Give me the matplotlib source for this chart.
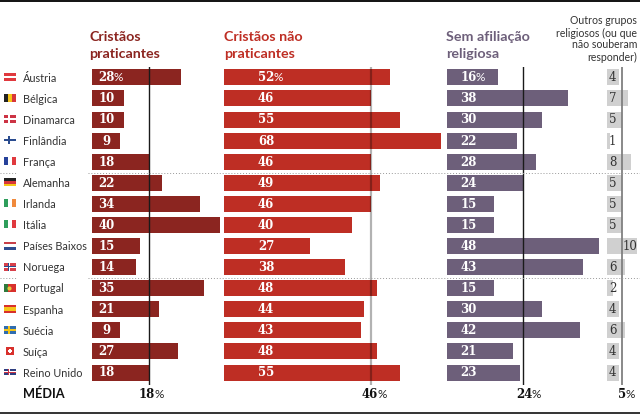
import matplotlib
matplotlib.use('Agg')
import matplotlib.pyplot as plt
from matplotlib.patches import Rectangle

countries = ['Áustria', 'Bélgica', 'Dinamarca', 'Finlândia', 'França', 'Alemanha', 'Irlanda', 'Itália',
             'Países Baixos', 'Noruega', 'Portugal', 'Espanha', 'Suécia', 'Suíça', 'Reino Unido']
praticantes = [28, 10, 10, 9, 18, 22, 34, 40, 15, 14, 35, 21, 9, 27, 18]
nao_praticantes = [52, 46, 55, 68, 46, 49, 46, 40, 27, 38, 48, 44, 43, 48, 55]
sem_afiliacao = [16, 38, 30, 22, 28, 24, 15, 15, 48, 43, 15, 30, 42, 21, 23]
outros = [4, 7, 5, 1, 8, 5, 5, 5, 10, 6, 2, 4, 6, 4, 4]
medias = [18, 46, 24, 5]

W, H = 640, 418
SANS = 'Lato'
SLAB = 'DejaVu Serif'
row_top = 77.4
row_step = 21.08

fig = plt.figure(figsize=(W / 100, H / 100), dpi=100)
over = fig.add_axes([0, 0, 1, 1], zorder=5)
over.set_xlim(0, W)
over.set_ylim(H, 0)
over.axis('off')


def column(x0, scale, values, mean, color, line, label_at, txt='white', lw=1.0):
    ax = fig.add_axes([x0 / W, 1 - 385 / H, (W - x0) / W, (385 - 67) / H])
    ax.set_xlim(0, (W - x0) / scale)
    ax.set_ylim((385 - row_top) / row_step, (67 - row_top) / row_step)
    ax.axis('off')
    ax.barh(range(len(values)), values, height=0.76, color=color, linewidth=0)
    ax.axvline(mean, color=line, linewidth=lw, zorder=4)
    for i, v in enumerate(values):
        if txt == 'white':
            ax.text(label_at / scale, i + 0.02, str(v), color=txt, fontsize=8.5, fontweight='bold',
                    family=SLAB, ha='center', va='center', zorder=5)
        else:
            # the 10 does not fit inside its slot, it sits right of the mean line
            pos = 23.5 if v == 10 else label_at
            ax.text(pos / scale, i + 0.02, str(v), color=txt, fontsize=8.5, family=SLAB,
                    ha='center', va='center', zorder=5)
        if i == 0 and txt == 'white':
            ax.text((label_at + 7.2) / scale, i + 0.02, '%', color=txt, fontsize=8.5, family=SANS,
                    ha='left', va='center', zorder=5)


column(91.5, 3.2, praticantes, medias[0], '#8B2520', '#1a1a1a', 15)
column(223.5, 3.2, nao_praticantes, medias[1], '#BE2E24', (0, 0, 0, 0.3), 42.5, lw=1.6)
column(446.7, 3.18, sem_afiliacao, medias[2], '#6D5F7A', '#1a1a1a', 21.6)
column(606.7, 3.05, outros, medias[3], '#D0D0D0', '#808080', 6, txt='#333333', lw=1.3)

# media row
for m, lx in zip(medias, [147, 370, 524, 622]):
    over.text(lx, 394, str(m), fontsize=8.5, fontweight='bold', family=SLAB, ha='center', va='center', color='#111111')
    over.text(lx + 7.2 if m > 9 else lx + 3.8, 394, '%', fontsize=8.5, family=SANS, ha='left', va='center', color='#222222')
over.text(23, 394, 'MÉDIA', fontsize=9.2, fontweight='bold', family=SANS, ha='left', va='center', color='#111111')

# headings
for x, c, lines in [(89, '#8B2520', ['Cristãos', 'praticantes']),
                    (224, '#BE2E24', ['Cristãos não', 'praticantes']),
                    (446, '#6D5F7A', ['Sem afiliação', 'religiosa'])]:
    over.text(x, 37, lines[0], fontsize=10.3, fontweight='bold', family=SANS, color=c, va='center')
    over.text(x, 53.5, lines[1], fontsize=10.3, fontweight='bold', family=SANS, color=c, va='center')
for y, s in zip([21, 33, 45, 57], ['Outros grupos', 'religiosos (ou que', 'não souberam', 'responder)']):
    over.text(637, y, s, fontsize=7.6, family=SANS, color='#333333', ha='right', va='center')

# rules
over.plot([0, W], [1, 1], color='#111111', lw=1.4, clip_on=False)
over.plot([0, W], [413, 413], color='#111111', lw=1.2)
for y in [172.5, 277.5]:
    over.plot([0, 17], [y, y], color='#999999', lw=0.7, ls=(0, (1, 2)))
    over.plot([88, W], [y, y], color='#999999', lw=0.7, ls=(0, (1, 2)))


def stripes_h(x, y, cols, w=12, h=8):
    for k, c in enumerate(cols):
        over.add_patch(Rectangle((x, y + k * h / len(cols)), w, h / len(cols), color=c, lw=0))


def stripes_v(x, y, cols, w=12, h=8):
    for k, c in enumerate(cols):
        over.add_patch(Rectangle((x + k * w / len(cols), y), w / len(cols), h, color=c, lw=0))


def cross(x, y, bg, fg, inner=None, w=12, h=8):
    over.add_patch(Rectangle((x, y), w, h, color=bg, lw=0))
    over.add_patch(Rectangle((x + 3.5, y), 2, h, color=fg, lw=0))
    over.add_patch(Rectangle((x, y + h / 2 - 1), w, 2, color=fg, lw=0))
    if inner:
        over.add_patch(Rectangle((x + 4, y), 1, h, color=inner, lw=0))
        over.add_patch(Rectangle((x, y + h / 2 - 0.5), w, 1, color=inner, lw=0))


fx = 4
for i, name in enumerate(countries):
    cy = row_top + i * row_step
    over.text(23, cy + 0.8, name, fontsize=7.8, family=SANS, color='#333333', ha='left', va='center')
    y = cy - 4.5
    if name == 'Áustria':
        stripes_h(fx, y, ['#E0393E', '#FFFFFF', '#E0393E'])
    elif name == 'Bélgica':
        stripes_v(fx, y, ['#222222', '#F5C518', '#D8363A'])
    elif name == 'Dinamarca':
        cross(fx, y, '#CC3344', '#FFFFFF')
    elif name == 'Finlândia':
        cross(fx, y, '#FFFFFF', '#2A4C8F')
    elif name == 'França':
        stripes_v(fx, y, ['#26419A', '#FFFFFF', '#E0393E'])
    elif name == 'Alemanha':
        stripes_h(fx, y, ['#222222', '#D8363A', '#F5C518'])
    elif name == 'Irlanda':
        stripes_v(fx, y, ['#2E9E5B', '#FFFFFF', '#F08A3C'])
    elif name == 'Itália':
        stripes_v(fx, y, ['#2E9E5B', '#FFFFFF', '#E0393E'])
    elif name == 'Países Baixos':
        stripes_h(fx, y, ['#C8404A', '#FFFFFF', '#2F4C8F'])
    elif name == 'Noruega':
        cross(fx, y, '#D8404A', '#FFFFFF', inner='#2A4C8F')
    elif name == 'Portugal':
        stripes_v(fx, y, ['#2F7A3C', '#D8302C', '#D8302C'])
        over.plot(fx + 4.6, y + 4, 'o', ms=3, color='#E8C83A', mew=0)
    elif name == 'Espanha':
        stripes_h(fx, y, ['#D8302C', '#F5C518', '#F5C518', '#D8302C'])
    elif name == 'Suécia':
        cross(fx, y, '#2F6DB0', '#F5C518')
    elif name == 'Suíça':
        over.add_patch(Rectangle((fx + 2, y), 8, 8, color='#D8302C', lw=0))
        over.add_patch(Rectangle((fx + 5, y + 1.8), 2, 4.4, color='white', lw=0))
        over.add_patch(Rectangle((fx + 3.8, y + 3), 4.4, 2, color='white', lw=0))
    elif name == 'Reino Unido':
        cross(fx, y + 1, '#2F3F80', '#FFFFFF', inner='#CC3344', h=6)

fig.savefig('out.png', dpi=100)
